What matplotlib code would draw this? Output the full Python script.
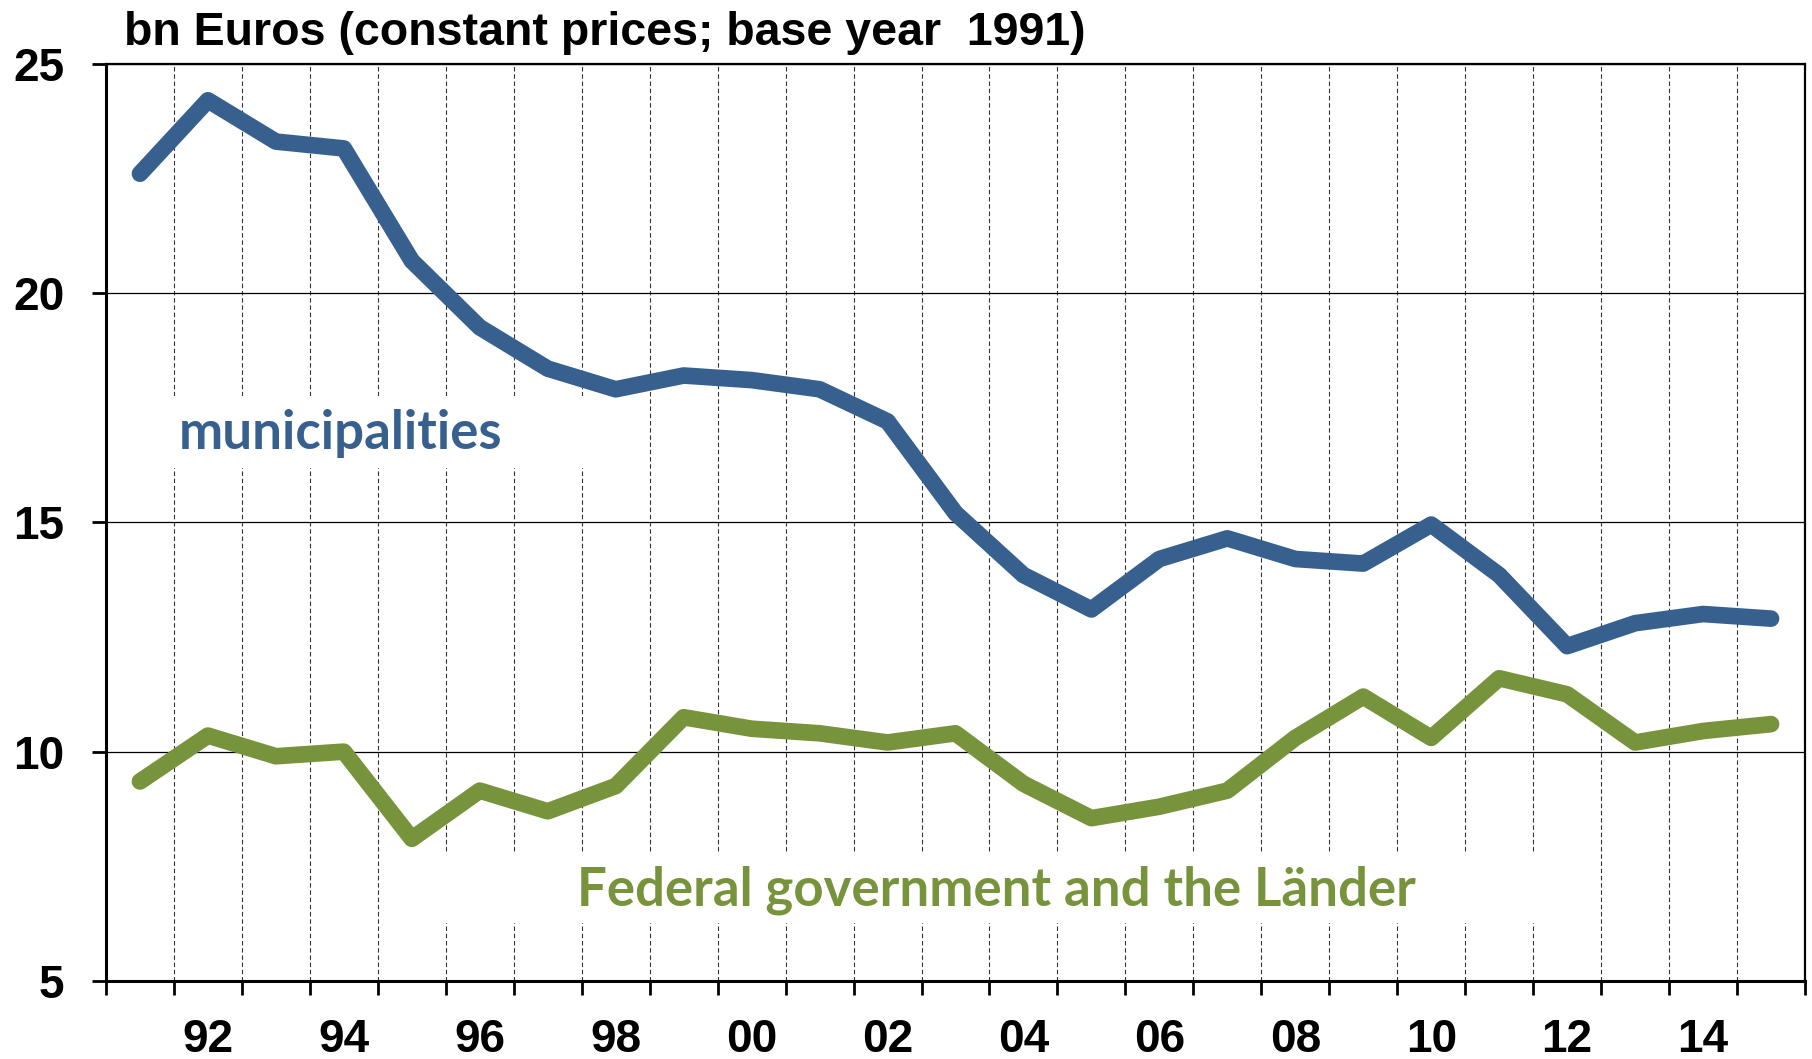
import matplotlib
matplotlib.use("Agg")
import matplotlib.pyplot as plt
from matplotlib.patches import Rectangle

years = list(range(1991, 2016))
municipalities = [22.6, 24.2, 23.3, 23.15, 20.7, 19.25, 18.35, 17.9, 18.2, 18.1,
                  17.9, 17.2, 15.2, 13.85, 13.1, 14.2, 14.65, 14.2, 14.1, 14.95,
                  13.85, 12.3, 12.8, 13.0, 12.9]
federal_laender = [9.35, 10.35, 9.9, 10.0, 8.1, 9.15, 8.7, 9.25, 10.75, 10.5,
                   10.4, 10.2, 10.4, 9.3, 8.55, 8.8, 9.15, 10.3, 11.2, 10.3,
                   11.6, 11.25, 10.2, 10.45, 10.6]
label_years = list(range(1992, 2016, 2))
y_ticks = [5, 10, 15, 20, 25]

BLUE = "#37608f"
GREEN = "#77933c"
TICK_FONT = "Liberation Sans"
LABEL_FONT = "Lato"

fig = plt.figure(figsize=(18.12, 10.59), dpi=100)
ax = fig.add_axes([106 / 1812, 1 - 981 / 1059, 1699 / 1812, 917.4 / 1059])

ax.plot(years, municipalities, color=BLUE, linewidth=12,
        solid_capstyle="round", solid_joinstyle="round", zorder=3)
ax.plot(years, federal_laender, color=GREEN, linewidth=12,
        solid_capstyle="round", solid_joinstyle="round", zorder=3)

ax.set_xlim(years[0] - 0.5, years[-1] + 0.5)
ax.set_ylim(5, 25)

# year boundaries carry the ticks and dashed grid, labels sit at year centres
ax.set_xticks([y - 0.5 for y in years] + [years[-1] + 0.5])
ax.set_xticklabels([])
ax.set_xticks(label_years, minor=True)
ax.set_xticklabels([f"{y % 100:02d}" for y in label_years], minor=True)
ax.tick_params(axis="x", which="major", direction="out", length=10, width=2)
ax.tick_params(axis="x", which="minor", length=0, pad=27)
ax.set_yticks(y_ticks)
ax.tick_params(axis="y", direction="out", length=10, width=2, pad=20)
for lab in ax.get_xticklabels(minor=True) + ax.get_yticklabels():
    lab.set_fontfamily(TICK_FONT)
    lab.set_fontweight("bold")
    lab.set_fontsize(33)

ax.set_axisbelow(True)
ax.grid(axis="x", which="major", color="#333333", linewidth=0.8,
        linestyle=(0, (4, 2.5)))
ax.grid(axis="y", color="black", linewidth=0.9)

for side in ["left", "bottom"]:
    ax.spines[side].set_linewidth(2.2)
for side in ["top", "right"]:
    ax.spines[side].set_linewidth(1.6)

# white boxes behind the series labels hide the grid
ax.add_patch(Rectangle((0.035, 0.559), 0.2555, 0.0785, transform=ax.transAxes,
                       facecolor="white", edgecolor="none", zorder=1))
ax.add_patch(Rectangle((0.1966, 0.0632), 0.659, 0.0774, transform=ax.transAxes,
                       facecolor="white", edgecolor="none", zorder=1))

ax.text(0.043, 0.580, "municipalities", transform=ax.transAxes, color=BLUE,
        fontsize=38, fontweight="bold", family=LABEL_FONT, va="baseline",
        ha="left", zorder=2)
ax.text(0.524, 0.0828, "Federal government and the Länder", transform=ax.transAxes,
        color=GREEN, fontsize=38, fontweight="bold", family=LABEL_FONT,
        va="baseline", ha="center", zorder=2)

fig.text(124 / 1812, 1 - 45 / 1059, "bn Euros (constant prices; base year  1991)",
         fontsize=33.5, fontweight="bold", family=TICK_FONT, va="baseline", ha="left")

fig.savefig("out.png", dpi=100)
plt.close(fig)
